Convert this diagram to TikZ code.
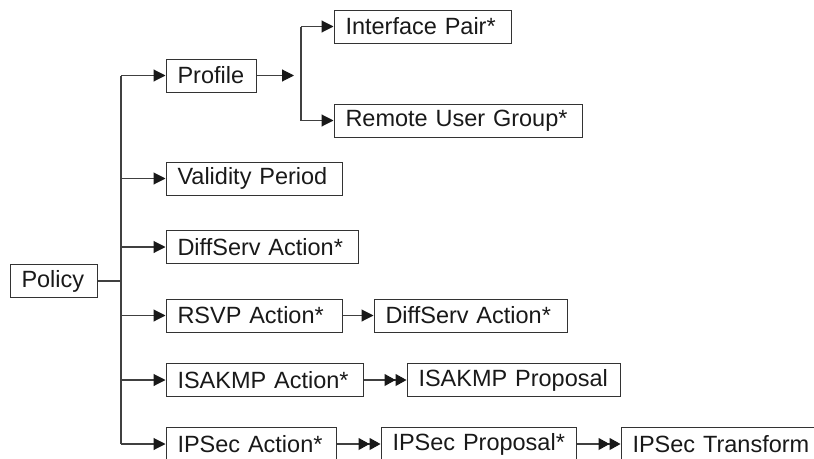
\documentclass[tikz,border=0pt]{standalone}
\usepackage{fontspec}
\setmainfont{Liberation Sans}
\usetikzlibrary{arrows.meta}
\begin{document}
\begin{tikzpicture}[x=1pt,y=-1pt,
  box/.style={draw=black!80,line width=1pt,anchor=west,minimum height=33pt,inner ysep=0pt,inner xsep=11pt,align=left,text width={#1-22pt},font=\fontsize{23.5}{25}\selectfont,text=black!90},
  conn/.style={draw=black!75,line width=1.1pt},
  arr/.style={conn,-{Triangle[length=12pt,width=12pt,fill=black!90,color=black!90]},shorten >=0.5pt},
  darr/.style={conn,-{Triangle[length=11pt,width=12pt,fill=black!90,color=black!90]Triangle[length=11pt,width=12pt,fill=black!90,color=black!90]},shorten >=0.5pt}]
\useasboundingbox (0,0) rectangle (814,458);
\node[box=87pt] (policy) at (10,281) {\mbox{Policy}};
\node[box=90pt] (profile) at (166,75.5) {\mbox{Profile}};
\node[box=177pt] (ifpair) at (334,26.5) {\mbox{Interface Pair*}};
\node[box=248pt] (rug) at (334,120.5) {\mbox{Remote User Group*}};
\node[box=176pt] (valid) at (166,178.5) {\mbox{Validity Period}};
\node[box=192pt] (diff1) at (166,247) {\mbox{DiffServ Action*}};
\node[box=176pt] (rsvp) at (166,315.5) {\mbox{RSVP Action*}};
\node[box=193pt] (diff2) at (374,315.5) {\mbox{DiffServ Action*}};
\node[box=197pt] (isa) at (166,380) {\mbox{ISAKMP Action*}};
\node[box=213pt] (isap) at (407,380) {\mbox{ISAKMP Proposal}};
\node[box=170pt] (ipsa) at (166,444) {\mbox{IPSec Action*}};
\node[box=195pt] (ipsp) at (381,444) {\mbox{IPSec Proposal*}};
\node[box=212pt] (ipst) at (621,444) {\mbox{IPSec Transform}};
% trunk
\coordinate (tt) at (121,75.5);
\coordinate (tb) at (121,444);
\draw[conn] (tt) -- (tb);
\draw[conn] (policy.east) -- (policy.east -| tt);
\draw[arr] (tt) -- (profile.west);
\draw[arr] (valid.west -| tt) -- (valid.west);
\draw[arr] (diff1.west -| tt) -- (diff1.west);
\draw[arr] (rsvp.west -| tt) -- (rsvp.west);
\draw[arr] (isa.west -| tt) -- (isa.west);
\draw[arr] (tb) -- (ipsa.west);
% profile branch
\coordinate (pb) at (294,75.5);
\coordinate (bt) at (301,26.5);
\coordinate (bb) at (301,120.5);
\draw[arr,shorten >=0pt] (profile.east) -- (pb);
\draw[conn] (bt) -- (bb);
\draw[arr] (bt) -- (ifpair.west);
\draw[arr] (bb) -- (rug.west);
% chains
\draw[arr] (rsvp.east) -- (diff2.west);
\draw[darr] (isa.east) -- (isap.west);
\draw[darr] (ipsa.east) -- (ipsp.west);
\draw[darr] (ipsp.east) -- (ipst.west);
\end{tikzpicture}
\end{document}
